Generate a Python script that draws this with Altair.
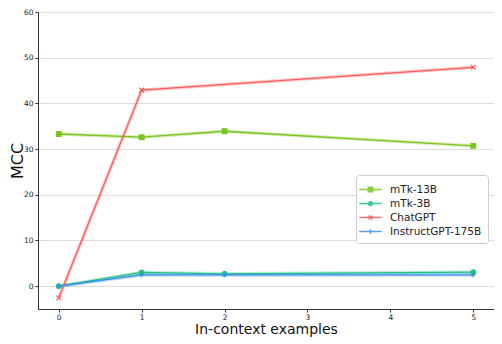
import altair as alt
import pandas as pd

series = ["mTk-13B", "mTk-3B", "ChatGPT", "InstructGPT-175B"]
colors = ["#7cc41f", "#1fbf8a", "#ff5a5a", "#3a8ee6"]
x_mtk13 = [0, 1, 2, 5]
y_mtk13 = [33.3, 32.6, 33.9, 30.7]
x_mtk3 = [0, 1, 2, 5]
y_mtk3 = [0.0, 3.0, 2.7, 3.05]
x_chat = [0, 1, 5]
y_chat = [-2.6, 42.9, 47.9]
x_inst = [0, 1, 2, 5]
y_inst = [0.0, 2.45, 2.45, 2.45]
x_ticks = [0, 1, 2, 3, 4, 5]
y_ticks = [0, 10, 20, 30, 40, 50, 60]

marker_paths = ["square", "circle", "M-1,-1L1,1M-1,1L1,-1", "M-1,0L1,0M0,-1L0,1"]
legend_paths = [
    "M-1.5,0L1.5,0M-0.3,-0.3L0.3,-0.3L0.3,0.3L-0.3,0.3Z",
    "M-1.5,0L1.5,0M0.25,0A0.25,0.25,0,1,1,-0.25,0A0.25,0.25,0,1,1,0.25,0Z",
    "M-1.5,0L1.5,0M-0.25,-0.25L0.25,0.25M-0.25,0.25L0.25,-0.25",
    "M-1.5,0L1.5,0M0,-0.3L0,0.3",
]

rows = []
for name, xs, ys in [
    (series[0], x_mtk13, y_mtk13),
    (series[1], x_mtk3, y_mtk3),
    (series[2], x_chat, y_chat),
    (series[3], x_inst, y_inst),
]:
    for xv, yv in zip(xs, ys):
        rows.append({"model": name, "x": xv, "y": yv})
df = pd.DataFrame(rows)

FONT = "DejaVu Sans"
xenc = alt.X("x:Q", scale=alt.Scale(domain=[-0.25, 5.25], nice=False, zero=False),
             axis=alt.Axis(values=x_ticks, title="In-context examples", grid=False,
                           labelFontSize=7.5, titleFontSize=14, titleFontWeight="normal",
                           titleFont=FONT, labelFont=FONT, domainColor="#333", tickColor="#333",
                           tickSize=3, labelColor="#222", titleColor="#111", titlePadding=2,
                           labelPadding=1, format="d"))
yenc = alt.Y("y:Q", scale=alt.Scale(domain=[-5, 60], nice=False, zero=False),
             axis=alt.Axis(values=y_ticks, title="MCC", grid=True, gridColor="#dddddd",
                           labelFontSize=7.5, titleFontSize=16, titleFontWeight="normal",
                           titleFont=FONT, labelFont=FONT, domainColor="#333", tickColor="#333",
                           tickSize=3, labelColor="#222", titleColor="#111",
                           labelPadding=2, titleX=-21, titleBaseline="middle"))
cscale = alt.Scale(domain=series, range=colors)

LEG = dict(title=None, orient="none", legendX=318, legendY=163,
           labelFont=FONT, labelFontSize=10.5, labelColor="#222",
           symbolSize=225, symbolStrokeWidth=1.5, symbolOpacity=0.85,
           padding=6, rowPadding=0, labelOffset=11,
           strokeColor="#cccccc", fillColor="white", cornerRadius=3)

base = alt.Chart(df)
halo = base.mark_line(strokeWidth=3.5, opacity=0.3).encode(
    x=xenc, y=yenc, color=alt.Color("model:N", scale=cscale, legend=None),
    detail="model:N")
lines = base.mark_line(strokeWidth=1.3).encode(
    x=xenc, y=yenc, color=alt.Color("model:N", scale=cscale, legend=None))
markers = base.mark_point(filled=True, size=22, strokeWidth=1.2, opacity=1).encode(
    x=xenc, y=yenc,
    color=alt.Color("model:N", scale=cscale, legend=None),
    stroke=alt.Stroke("model:N", scale=cscale, legend=None),
    shape=alt.Shape("model:N", scale=alt.Scale(domain=series, range=marker_paths), legend=None))
leg = base.transform_filter("datum.x < -100").mark_point(filled=True, strokeWidth=1.5).encode(
    x=xenc, y=yenc,
    color=alt.Color("model:N", scale=cscale, legend=alt.Legend(**LEG)),
    stroke=alt.Stroke("model:N", scale=cscale, legend=alt.Legend(**LEG)),
    shape=alt.Shape("model:N", scale=alt.Scale(domain=series, range=legend_paths),
                    legend=alt.Legend(**LEG)))

chart = alt.layer(halo, lines, markers, leg).resolve_scale(
    shape="independent", color="independent", stroke="independent").properties(
    width=456, height=297,
    autosize=alt.AutoSizeParams(type="none"),
    padding={"left": 30, "top": 4, "right": 0, "bottom": 35},
).configure_view(stroke=None).configure(background="white")

chart.save("out.html", embed_options={"renderer": "svg", "actions": False})
